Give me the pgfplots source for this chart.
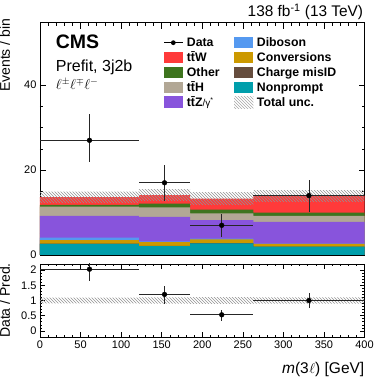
\documentclass[border=0pt]{standalone}
\usepackage{pgfplots}
\usepackage{pgfplotstable}
\pgfplotsset{compat=1.18}
\usepackage{fontspec}
\setmainfont{Liberation Sans}
\usetikzlibrary{patterns}

\definecolor{cttw}{RGB}{255,58,58}
\definecolor{coth}{RGB}{62,116,30}
\definecolor{ctth}{RGB}{178,167,149}
\definecolor{cttz}{RGB}{136,84,220}
\definecolor{cdib}{RGB}{85,153,240}
\definecolor{cconv}{RGB}{204,153,0}
\definecolor{cmis}{RGB}{102,77,62}
\definecolor{cnp}{RGB}{0,158,171}

% cumulative stack tops per bin (last row repeats the last bin)
\pgfplotstableread{
lo   np   mis  conv dib  ttz  tth  oth  ttw
0    2.60 2.65 3.50 4.10 9.20 11.4 11.8 13.6
122  2.10 2.15 3.05 3.20 9.00 11.2 12.1 14.1
185  2.75 2.80 3.70 3.85 8.20 9.80 10.7 13.3
263  1.95 2.00 2.60 2.70 7.80 9.20 10.0 13.9
400  1.95 2.00 2.60 2.70 7.80 9.20 10.0 13.9
}\stack

\pgfplotsset{
  cms/.style={
    scale only axis, width=324.5pt,
    xmin=0, xmax=400,
    xtick={0,50,...,400}, minor x tick num=4,
    tick align=inside, xtick pos=both, ytick pos=both,
    major tick length=6pt, minor tick length=3pt,
    axis line style={line width=0.7pt},
    every tick/.style={black, line width=0.6pt},
    tick label style={font=\fontsize{11}{13}\selectfont},
    /pgf/number format/assume math mode=true,
  },
  stk/.style={const plot mark left, draw=none, fill=#1},
  dat/.style={black, mark=*, mark size=2.4pt, only marks,
    error bars/.cd, x dir=both, x explicit, y dir=both, y explicit,
    error mark=none, error bar style={line width=0.7pt, black!85}},
}

\begin{document}
\begin{tikzpicture}
\path[use as bounding box] (-40pt,-122pt) rectangle (334pt,255pt);

\begin{axis}[cms, at={(0,0)}, anchor=south west, height=232.3pt,
  ymin=0, ymax=54.7, ytick={0,20,40}, minor y tick num=3,
  xticklabels={}]
\addplot[stk=cttw] table[x=lo, y=ttw] {\stack} \closedcycle;
\addplot[stk=coth] table[x=lo, y=oth] {\stack} \closedcycle;
\addplot[stk=ctth] table[x=lo, y=tth] {\stack} \closedcycle;
\addplot[stk=cttz] table[x=lo, y=ttz] {\stack} \closedcycle;
\addplot[stk=cdib] table[x=lo, y=dib] {\stack} \closedcycle;
\addplot[stk=cconv] table[x=lo, y=conv] {\stack} \closedcycle;
\addplot[stk=cmis] table[x=lo, y=mis] {\stack} \closedcycle;
\addplot[stk=cnp] table[x=lo, y=np] {\stack} \closedcycle;
% total uncertainty band
\addplot[draw=none, pattern=north west lines, pattern color=gray!85] coordinates {
 (0,12.3)(0,14.9)(122,14.9)(122,15.5)(185,15.5)(185,14.8)(263,14.8)(263,15.3)
 (400,15.3)(400,12.5)(263,12.5)(263,11.8)(185,11.8)(185,12.7)(122,12.7)(122,12.3)};
\addplot[dat] coordinates {
 (61,27)    += (61,6.2)   -= (61,5.2)
 (153.5,17) += (31.5,4.1) -= (31.5,4.2)
 (224,7)    += (39,2.6)   -= (39,2.7)
 (331.5,14) += (68.5,3.6) -= (68.5,3.8)};
\end{axis}

\begin{axis}[cms, at={(0,-9pt)}, anchor=north west, height=73pt,
  ymin=-0.2, ymax=2.2, ytick={0,0.5,1,1.5,2}, minor y tick num=4,
  major tick length=5pt, minor tick length=2.5pt]
\addplot[draw=none, pattern=north west lines, pattern color=gray!85] coordinates {
 (0,0.904)(0,1.096)(122,1.096)(122,1.099)(185,1.099)(185,1.113)(263,1.113)(263,1.10)
 (400,1.10)(400,0.90)(263,0.90)(263,0.887)(185,0.887)(185,0.901)(122,0.901)(122,0.904)};
\addplot[dat] coordinates {
 (61,2.03)    += (61,0.40)   -= (61,0.38)
 (153.5,1.20) += (31.5,0.29) -= (31.5,0.30)
 (224,0.53)   += (39,0.15)   -= (39,0.22)
 (331.5,1.00) += (68.5,0.25) -= (68.5,0.26)};
\end{axis}

\begin{scope}[x=1pt, y=1pt]
\node[anchor=base east, inner sep=0] at (323.3,238.3)
  {\fontsize{15.4}{18}\selectfont 138 fb\textsuperscript{-1} (13 TeV)};
\node[anchor=base west, inner sep=0] at (15.7,206)
  {\fontsize{19.5}{22}\selectfont\bfseries CMS};
\node[anchor=base west, inner sep=0] at (15.7,183.5)
  {\fontsize{16}{19}\selectfont Prefit, 3j2b};
\node[anchor=base west, inner sep=0] at (15.7,165.5)
  {\fontsize{14.5}{17}\selectfont $\ell^{\pm}\ell^{\mp}\ell^{-}$};
\node[rotate=90, anchor=base east, inner sep=0] at (-30,236.5)
  {\fontsize{14}{16}\selectfont Events / bin};
\node[rotate=90, anchor=base, inner sep=0] at (-30,-45.5)
  {\fontsize{14}{16}\selectfont Data / Pred.};
\node[anchor=base east, inner sep=0] at (324.5,-118.3)
  {\fontsize{15.5}{18}\selectfont \textit{m}(3\kern0.5pt$\ell$) [GeV]};

% legend
\def\lf{\fontsize{12.3}{14}\selectfont\bfseries}
\draw[black, line width=0.7pt] (124,212.3) -- (142.7,212.3);
\fill[black] (133.3,212.3) circle (2.4);
\node[anchor=base west, inner sep=0] at (146.7,208.1) {\lf Data};
\foreach \c/\t [count=\i] in {cttw/t\={t}W, coth/Other, ctth/t\={t}H,
    cttz/{t\={t}Z{\mdseries\fontsize{10}{12}\selectfont/γ\textsuperscript{*}}}} {
  \fill[\c] (124,212.3-14.9*\i-5.8) rectangle (142.7,212.3-14.9*\i+5.8);
  \node[anchor=base west, inner sep=0] at (146.7,208.1-14.9*\i) {\lf \t};
}
\foreach \c/\t [count=\i from 0] in {cdib/Diboson, cconv/Conversions,
    cmis/Charge misID, cnp/Nonprompt} {
  \fill[\c] (194,212.3-14.9*\i-5.8) rectangle (213.3,212.3-14.9*\i+5.8);
  \node[anchor=base west, inner sep=0] at (216.7,208.1-14.9*\i) {\lf \t};
}
\fill[pattern=north west lines, pattern color=gray!70]
  (194,152.7-5.8) rectangle (213.3,152.7+5.8);
\node[anchor=base west, inner sep=0] at (216.7,148.5) {\lf Total unc.};
\end{scope}
\end{tikzpicture}
\end{document}
